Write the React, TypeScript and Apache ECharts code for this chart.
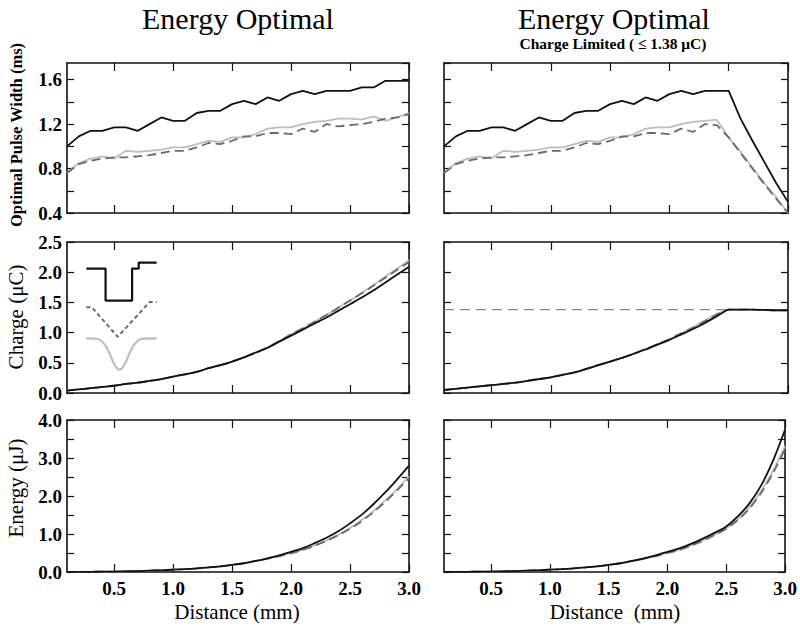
import { useEffect, useRef } from 'react';
import * as echarts from 'echarts';

// ---------- data ----------
const DISTANCE = [0.1, 0.2, 0.3, 0.4, 0.5, 0.6, 0.7, 0.8, 0.9, 1.0, 1.1, 1.2, 1.3, 1.4, 1.5, 1.6, 1.7, 1.8, 1.9, 2.0, 2.1, 2.2, 2.3, 2.4, 2.5, 2.6, 2.7, 2.8, 2.9, 3.0];
const X_TICKS = [0.5, 1.0, 1.5, 2.0, 2.5, 3.0];

// Optimal pulse width (ms)
const PW_SQUARE_L = [1.00, 1.09, 1.14, 1.14, 1.17, 1.17, 1.14, 1.20, 1.26, 1.23, 1.23, 1.30, 1.32, 1.32, 1.38, 1.41, 1.38, 1.44, 1.41, 1.47, 1.50, 1.47, 1.50, 1.50, 1.50, 1.53, 1.53, 1.59, 1.59, 1.59];
const PW_TRI_L = [0.76, 0.84, 0.87, 0.89, 0.90, 0.90, 0.91, 0.92, 0.94, 0.96, 0.96, 0.99, 1.03, 1.02, 1.05, 1.09, 1.09, 1.12, 1.12, 1.11, 1.16, 1.13, 1.20, 1.18, 1.19, 1.20, 1.22, 1.25, 1.26, 1.29];
const PW_GAUSS_L = [0.76, 0.85, 0.89, 0.91, 0.89, 0.96, 0.95, 0.96, 0.97, 0.99, 0.99, 1.02, 1.05, 1.04, 1.08, 1.08, 1.11, 1.16, 1.17, 1.17, 1.20, 1.22, 1.23, 1.25, 1.25, 1.24, 1.27, 1.23, 1.26, 1.30];
const PW_SQUARE_R = [1.00, 1.09, 1.14, 1.14, 1.17, 1.17, 1.14, 1.20, 1.26, 1.23, 1.23, 1.30, 1.32, 1.32, 1.38, 1.41, 1.38, 1.44, 1.41, 1.47, 1.50, 1.47, 1.50, 1.50, 1.50, 1.25, 1.05, 0.86, 0.67, 0.50];
const PW_TRI_R = [0.76, 0.84, 0.87, 0.89, 0.90, 0.90, 0.91, 0.92, 0.94, 0.96, 0.96, 0.99, 1.03, 1.02, 1.05, 1.09, 1.09, 1.12, 1.12, 1.11, 1.16, 1.13, 1.20, 1.19, 1.08, 0.94, 0.80, 0.66, 0.53, 0.40];
const PW_GAUSS_R = [0.76, 0.85, 0.89, 0.91, 0.89, 0.96, 0.95, 0.96, 0.97, 0.99, 0.99, 1.02, 1.05, 1.04, 1.08, 1.08, 1.11, 1.16, 1.17, 1.17, 1.20, 1.22, 1.23, 1.24, 1.08, 0.95, 0.81, 0.67, 0.54, 0.40];

// Charge (uC)
const Q_SQUARE_L = [0.04, 0.06, 0.08, 0.10, 0.12, 0.15, 0.17, 0.20, 0.23, 0.27, 0.31, 0.35, 0.41, 0.46, 0.52, 0.59, 0.67, 0.75, 0.85, 0.95, 1.05, 1.15, 1.25, 1.36, 1.47, 1.58, 1.70, 1.83, 1.96, 2.09];
const Q_TRI_L = [0.04, 0.06, 0.08, 0.10, 0.12, 0.15, 0.17, 0.20, 0.23, 0.27, 0.31, 0.35, 0.41, 0.46, 0.52, 0.59, 0.67, 0.75, 0.86, 0.97, 1.07, 1.18, 1.29, 1.41, 1.53, 1.65, 1.78, 1.91, 2.04, 2.17];
const Q_GAUSS_L = [0.04, 0.06, 0.08, 0.10, 0.12, 0.15, 0.17, 0.20, 0.23, 0.27, 0.31, 0.35, 0.41, 0.46, 0.52, 0.59, 0.67, 0.75, 0.86, 0.97, 1.07, 1.18, 1.29, 1.41, 1.53, 1.66, 1.79, 1.93, 2.06, 2.20];
const Q_SQUARE_R = [0.05, 0.07, 0.09, 0.11, 0.13, 0.15, 0.17, 0.20, 0.23, 0.26, 0.30, 0.34, 0.40, 0.46, 0.52, 0.58, 0.65, 0.72, 0.80, 0.88, 0.97, 1.06, 1.16, 1.27, 1.38, 1.38, 1.38, 1.375, 1.37, 1.37];
const Q_TRI_R = [0.05, 0.07, 0.09, 0.11, 0.13, 0.15, 0.17, 0.20, 0.23, 0.26, 0.30, 0.34, 0.40, 0.46, 0.52, 0.58, 0.65, 0.73, 0.81, 0.89, 0.99, 1.08, 1.19, 1.30, 1.38, 1.38, 1.38, 1.375, 1.37, 1.37];
const Q_GAUSS_R = [0.05, 0.07, 0.09, 0.11, 0.13, 0.15, 0.17, 0.20, 0.23, 0.26, 0.30, 0.34, 0.40, 0.46, 0.52, 0.58, 0.65, 0.73, 0.81, 0.89, 0.99, 1.09, 1.20, 1.31, 1.38, 1.38, 1.38, 1.375, 1.37, 1.37];
const Q_LIMIT = 1.38;
const Q_LIMIT_RANGE = [0.1, 2.5];

// Energy (uJ)
const E_SQUARE_L = [0.0, 0.003, 0.005, 0.008, 0.012, 0.018, 0.025, 0.035, 0.045, 0.06, 0.075, 0.095, 0.12, 0.15, 0.19, 0.23, 0.29, 0.36, 0.44, 0.53, 0.63, 0.76, 0.90, 1.07, 1.28, 1.51, 1.79, 2.10, 2.44, 2.80];
const E_TRI_L = [0.0, 0.003, 0.005, 0.008, 0.012, 0.018, 0.025, 0.035, 0.045, 0.06, 0.075, 0.095, 0.12, 0.15, 0.19, 0.23, 0.29, 0.35, 0.42, 0.49, 0.58, 0.69, 0.82, 0.97, 1.14, 1.34, 1.58, 1.85, 2.15, 2.47];
const E_GAUSS_L = [0.0, 0.003, 0.005, 0.008, 0.012, 0.018, 0.025, 0.035, 0.045, 0.06, 0.075, 0.095, 0.12, 0.15, 0.19, 0.23, 0.29, 0.35, 0.42, 0.50, 0.59, 0.70, 0.83, 0.98, 1.16, 1.37, 1.61, 1.89, 2.19, 2.52];
const E_SQUARE_R = [0.0, 0.003, 0.005, 0.008, 0.012, 0.018, 0.025, 0.035, 0.045, 0.06, 0.075, 0.095, 0.12, 0.15, 0.19, 0.23, 0.29, 0.36, 0.44, 0.53, 0.62, 0.74, 0.88, 1.03, 1.20, 1.47, 1.82, 2.30, 2.95, 3.75];
const E_TRI_R = [0.0, 0.003, 0.005, 0.008, 0.012, 0.018, 0.025, 0.035, 0.045, 0.06, 0.075, 0.095, 0.12, 0.15, 0.19, 0.23, 0.29, 0.35, 0.42, 0.50, 0.58, 0.69, 0.82, 0.97, 1.14, 1.37, 1.68, 2.10, 2.62, 3.24];
const E_GAUSS_R = [0.0, 0.003, 0.005, 0.008, 0.012, 0.018, 0.025, 0.035, 0.045, 0.06, 0.075, 0.095, 0.12, 0.15, 0.19, 0.23, 0.29, 0.35, 0.42, 0.50, 0.59, 0.70, 0.83, 0.98, 1.16, 1.40, 1.72, 2.15, 2.68, 3.32];

// Inset pulse-shape glyphs (drawn in the charge panel's data coordinates)
const GLYPH_SQUARE = [[0.264, 2.06], [0.427, 2.06], [0.427, 1.53], [0.652, 1.53], [0.652, 2.06], [0.708, 2.06], [0.708, 2.16], [0.86, 2.16]];
const GLYPH_TRI = [[0.264, 1.42], [0.31, 1.42], [0.53, 0.93], [0.80, 1.505], [0.86, 1.505]];
const GLYPH_GAUSS = [[0.264, 0.905], [0.33, 0.90], [0.38, 0.88], [0.42, 0.80], [0.46, 0.66], [0.50, 0.48], [0.545, 0.385], [0.59, 0.48], [0.63, 0.66], [0.67, 0.80], [0.71, 0.88], [0.76, 0.90], [0.86, 0.905]];

const PANELS = [
  { sq: PW_SQUARE_L, tri: PW_TRI_L, ga: PW_GAUSS_L, smooth: false },
  { sq: PW_SQUARE_R, tri: PW_TRI_R, ga: PW_GAUSS_R, smooth: false },
  { sq: Q_SQUARE_L, tri: Q_TRI_L, ga: Q_GAUSS_L, smooth: 0.3 },
  { sq: Q_SQUARE_R, tri: Q_TRI_R, ga: Q_GAUSS_R, smooth: 0.15 },
  { sq: E_SQUARE_L, tri: E_TRI_L, ga: E_GAUSS_L, smooth: 0.3 },
  { sq: E_SQUARE_R, tri: E_TRI_R, ga: E_GAUSS_R, smooth: 0.3 },
];

const Y_SCALES = [
  { min: 0.4, max: 1.75, interval: 0.2, labelStep: 0.4 },
  { min: 0, max: 2.5, interval: 0.5, labelStep: 0.5 },
  { min: 0, max: 4, interval: 0.5, labelStep: 1.0 },
];

const COLS = [{ left: 67, width: 342 }, { left: 444, width: 344 }];
const ROWS = [{ top: 63, height: 150 }, { top: 242, height: 151 }, { top: 420, height: 152 }];

const BLACK = '#111111';
const DASH_GRAY = '#6a6a6a';
const LIGHT_GRAY = '#bdbdbd';
const SERIF = 'Liberation Serif';

function pairs(ys: number[]) {
  return DISTANCE.map((x, i) => [x, ys[i]]);
}

export default function App() {
  const ref = useRef<HTMLDivElement>(null);

  useEffect(() => {
    if (!ref.current) return;
    const chart = echarts.init(ref.current, undefined, { renderer: 'svg' });

    const grids: any[] = [];
    const xAxes: any[] = [];
    const yAxes: any[] = [];
    const series: any[] = [];
    const axisLine = { show: true, onZero: false, lineStyle: { color: BLACK, width: 1.6 } };
    const tickStyle = { color: BLACK, width: 1.2 };

    for (let i = 0; i < 6; i++) {
      const r = Math.floor(i / 2);
      const c = i % 2;
      grids.push({ left: COLS[c].left, width: COLS[c].width, top: ROWS[r].top, height: ROWS[r].height, containLabel: false });
      const ys = Y_SCALES[r];
      for (const pos of ['bottom', 'top']) {
        xAxes.push({
          type: 'value', gridIndex: i, position: pos, min: 0.1, max: 3.0,
          axisLine,
          axisTick: { show: true, inside: true, length: 8, customValues: X_TICKS, lineStyle: tickStyle },
          axisLabel: {
            show: pos === 'bottom' && r === 2, customValues: X_TICKS, margin: 7,
            formatter: (v: number) => v.toFixed(1),
            color: '#000', fontFamily: SERIF, fontWeight: 'bold', fontSize: 19,
          },
          splitLine: { show: false },
        });
      }
      for (const pos of ['left', 'right']) {
        yAxes.push({
          type: 'value', gridIndex: i, position: pos, min: ys.min, max: ys.max, interval: ys.interval,
          axisLine,
          axisTick: { show: true, inside: true, length: 7, lineStyle: tickStyle },
          axisLabel: {
            show: pos === 'left' && c === 0, margin: 5, showMaxLabel: ys.max % ys.labelStep === 0,
            formatter: (v: number) => {
              const k = v / ys.labelStep;
              return Math.abs(k - Math.round(k)) < 1e-6 ? v.toFixed(1) : '';
            },
            color: '#000', fontFamily: SERIF, fontWeight: 'bold', fontSize: 19,
          },
          splitLine: { show: false },
        });
      }
      const p = PANELS[i];
      const base = { type: 'line', xAxisIndex: 2 * i, yAxisIndex: 2 * i, symbol: 'none', showSymbol: false, silent: true };
      if (i === 3) {
        series.push({
          ...base, name: 'Charge limit',
          data: [[Q_LIMIT_RANGE[0], Q_LIMIT], [Q_LIMIT_RANGE[1], Q_LIMIT]],
          lineStyle: { color: '#8a8a8a', width: 1.3, type: [10, 6] },
        });
      }
      series.push({ ...base, name: 'Gaussian', smooth: p.smooth, data: pairs(p.ga), lineStyle: { color: LIGHT_GRAY, width: 1.8 } });
      series.push({ ...base, name: 'Triangular', smooth: p.smooth, data: pairs(p.tri), lineStyle: { color: DASH_GRAY, width: 1.8, type: [9, 5] } });
      series.push({ ...base, name: 'Square', smooth: p.smooth, data: pairs(p.sq), lineStyle: { color: BLACK, width: 1.8 } });
      if (i === 2) {
        series.push({ ...base, name: 'Square pulse', data: GLYPH_SQUARE, lineStyle: { color: BLACK, width: 2.2 } });
        series.push({ ...base, name: 'Triangular pulse', data: GLYPH_TRI, lineStyle: { color: DASH_GRAY, width: 2, type: [4, 3] } });
        series.push({ ...base, name: 'Gaussian pulse', smooth: 0.4, data: GLYPH_GAUSS, lineStyle: { color: LIGHT_GRAY, width: 2.2 } });
      }
    }

    const textStyle = (text: string, fontSize: number, fontWeight: string) => ({
      text, fontFamily: SERIF, fontSize, fontWeight, fill: '#000', align: 'center', verticalAlign: 'middle',
    });

    chart.setOption({
      animation: false,
      backgroundColor: '#ffffff',
      grid: grids,
      xAxis: xAxes,
      yAxis: yAxes,
      series,
      graphic: [
        { type: 'text', x: 238, y: 18, style: textStyle('Energy Optimal', 30, 'normal') },
        { type: 'text', x: 614, y: 18, style: textStyle('Energy Optimal', 30, 'normal') },
        { type: 'text', x: 613, y: 43, style: textStyle('Charge Limited ( ≤ 1.38 μC)', 15.5, 'bold') },
        { type: 'text', x: 16, y: 135, rotation: Math.PI / 2, style: textStyle('Optimal Pulse Width (ms)', 16.5, 'bold') },
        { type: 'text', x: 16, y: 317, rotation: Math.PI / 2, style: textStyle('Charge (μC)', 21, 'normal') },
        { type: 'text', x: 16, y: 488, rotation: Math.PI / 2, style: textStyle('Energy (μJ)', 21, 'normal') },
        { type: 'text', x: 237, y: 612, style: textStyle('Distance (mm)', 21, 'normal') },
        { type: 'text', x: 615, y: 612, style: textStyle('Distance  (mm)', 21, 'normal') },
      ],
    });

    return () => chart.dispose();
  }, []);

  return <div ref={ref} style={{ position: 'fixed', left: 0, top: 0, width: 800, height: 629, background: '#fff' }} />;
}
